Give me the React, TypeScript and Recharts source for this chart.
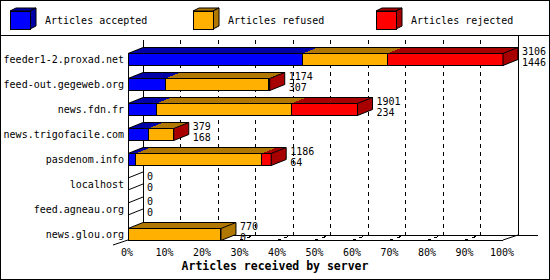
import React from 'react';
import { BarChart, Bar, XAxis, YAxis, CartesianGrid } from 'recharts';

const CATEGORIES = [
  'feeder1-2.proxad.net',
  'feed-out.gegeweb.org',
  'news.fdn.fr',
  'news.trigofacile.com',
  'pasdenom.info',
  'localhost',
  'feed.agneau.org',
  'news.glou.org',
];
const ACCEPTED = [1446, 307, 234, 168, 64, 0, 0, 0];
const REFUSED = [702, 855, 1119, 209, 1043, 0, 0, 770];
const REJECTED = [958, 12, 548, 2, 79, 0, 0, 0];

const SERIES_KEYS = ['accepted', 'refused', 'rejected'];
const SERIES_NAMES = ['Articles accepted', 'Articles refused', 'Articles rejected'];
const SERIES_COLORS = ['#0000ff', '#ffb000', '#ff0000'];
const SERIES_DARK = ['#0000a8', '#b07800', '#a80000'];
const PERCENT_TICKS = [0, 10, 20, 30, 40, 50, 60, 70, 80, 90, 100];
const X_TITLE = 'Articles received by server';

const FONT = '"DejaVu Sans Mono", monospace';
const DX = 15;
const DY = 6;
const BAR = 12;

const data = CATEGORIES.map((name, i) => ({
  name,
  accepted: ACCEPTED[i],
  refused: REFUSED[i],
  rejected: REJECTED[i],
  total: ACCEPTED[i] + REFUSED[i] + REJECTED[i],
}));
const MAX_TOTAL = Math.max(...data.map((d) => d.total));
const X_TICKS = PERCENT_TICKS.map((p) => (MAX_TOTAL * p) / 100);

function makeShape(si: number) {
  return (props: any) => {
    const { x, y, width, height, payload } = props;
    const vals = SERIES_KEYS.map((k) => Number(payload?.[k] ?? 0));
    const total = vals.reduce((a, b) => a + b, 0);
    const last = SERIES_KEYS.length - 1;
    const parts: React.ReactNode[] = [];
    if (total > 0 && vals[si] > 0) {
      const isFirst = vals.slice(0, si).every((v) => v === 0);
      const isLast = vals.slice(si + 1).every((v) => v === 0);
      const x2 = x + width;
      parts.push(
        <polygon
          key="top"
          points={`${x},${y} ${x + DX},${y - DY} ${x2 + DX},${y - DY} ${x2},${y}`}
          fill={SERIES_DARK[si]}
          stroke="none"
          shapeRendering="crispEdges"
        />
      );
      parts.push(<line key="tb" x1={x + DX} y1={y - DY} x2={x2 + DX} y2={y - DY} stroke="#000" shapeRendering="crispEdges" />);
      if (isFirst) {
        parts.push(<line key="tl" x1={x} y1={y} x2={x + DX} y2={y - DY} stroke="#000" />);
      }
      parts.push(
        <rect key="front" x={x} y={y} width={width} height={height} fill={SERIES_COLORS[si]} stroke="#000" shapeRendering="crispEdges" />
      );
      if (isLast) {
        parts.push(
          <polygon
            key="side"
            points={`${x2},${y} ${x2 + DX},${y - DY} ${x2 + DX},${y + height - DY} ${x2},${y + height}`}
            fill={SERIES_DARK[si]}
            stroke="#000"
          />
        );
      }
    }
    if (si === last) {
      const end = x + width;
      parts.push(
        <text key="l1" x={end + DX + 4} y={y + 1} fontFamily={FONT} fontSize={10} fill="#000">
          {total}
        </text>
      );
      parts.push(
        <text key="l2" x={end + DX + 4} y={y + height + 0.5} fontFamily={FONT} fontSize={10} fill="#000">
          {vals[0]}
        </text>
      );
    }
    return <g>{parts}</g>;
  };
}

function scaleX(xAxis: any, offset: any, t: number) {
  const sc = xAxis?.scale;
  if (typeof sc === 'function') return sc(t);
  if (sc && typeof sc.map === 'function') return sc.map(t);
  return offset.left + (offset.width * t) / MAX_TOTAL;
}

const verticalGen = ({ xAxis, offset }: any) => X_TICKS.map((t) => scaleX(xAxis, offset, t));
const horizontalGen = ({ offset }: any) => [offset.top + offset.height];

const renderVertical = (p: any) => {
  const band = p.height / CATEGORIES.length;
  const pad = (band - BAR) / 2;
  const bottom = p.y + p.height;
  const floorFront = bottom - pad;
  const floorBack = floorFront - 5;
  const wallTop = p.y - pad;
  const xb = p.x1 + DX;
  const n = X_TICKS.length;
  if (p.index === 0) {
    return (
      <g key={`v${p.index}`} stroke="#000" fill="none">
        <line x1={xb} y1={wallTop} x2={xb} y2={floorBack} shapeRendering="crispEdges" />
        <line x1={xb} y1={floorBack} x2={p.x1} y2={floorFront} />
      </g>
    );
  }
  if (p.index === n - 1) {
    return (
      <g key={`v${p.index}`}>
        <line x1={xb} y1={p.y - pad - 5} x2={xb} y2={floorBack} stroke="#000" shapeRendering="crispEdges" />
      </g>
    );
  }
  return (
    <g key={`v${p.index}`}>
      <polyline
        points={`${xb},${wallTop} ${xb},${floorBack} ${p.x1},${floorFront}`}
        fill="none"
        stroke="#000"
        strokeDasharray="4 4"
        shapeRendering="crispEdges"
      />
    </g>
  );
};

const renderHorizontal = (p: any) => {
  const n = CATEGORIES.length;
  const band = p.height / n;
  const pad = (band - BAR) / 2;
  const left = p.x1;
  const right = p.x2;
  const floorFront = p.y1 - pad;
  const floorBack = floorFront - 5;
  const axisTop = p.y + pad;
  const zeroRows: React.ReactNode[] = [];
  data.forEach((d, i) => {
    if (d.total !== 0) return;
    const top = p.y + band * i + pad;
    const bot = top + BAR;
    zeroRows.push(
      <path
        key={`z${i}`}
        d={`M${left},${top}L${left + DX},${top - DY}M${left},${bot}L${left + DX},${bot - DY}`}
        stroke="#000"
        strokeWidth={1}
        fill="none"
      />
    );
  });
  return (
    <g key={`h${p.index}`} stroke="#000" fill="none">
      <line x1={left} y1={axisTop} x2={left} y2={floorFront} shapeRendering="crispEdges" />
      <line x1={left} y1={floorFront} x2={right} y2={floorFront} shapeRendering="crispEdges" />
      <line x1={right} y1={floorFront} x2={right + DX} y2={floorBack} />
      <line x1={left + DX} y1={floorBack} x2={right + DX + 20} y2={floorBack} shapeRendering="crispEdges" />
      <line x1={left - DX} y1={floorFront + 5} x2={left} y2={floorFront} />
      {zeroRows}
    </g>
  );
};

const XTick = (p: any) => (
  <text x={p.x - 1} y={p.y + 9.5} textAnchor="middle" fontFamily={FONT} fontSize={10} fill="#000">
    {`${PERCENT_TICKS[p.index] ?? Math.round((p.payload.value / MAX_TOTAL) * 100)}%`}
  </text>
);

const YTick = (p: any) => (
  <text x={p.x} y={p.y + 3.5} textAnchor="end" fontFamily={FONT} fontSize={10} fill="#000">
    {p.payload.value}
  </text>
);

function Overlay() {
  return (
    <svg width={550} height={280} style={{ position: 'absolute', left: 0, top: 0, pointerEvents: 'none' }}>
      {SERIES_NAMES.map((name, i) => {
        const x0 = 10 + i * 183;
        return (
          <g key={name}>
            <polygon points={`${x0},11 ${x0 + 6},8 ${x0 + 26},8 ${x0 + 20},11`} fill={SERIES_DARK[i]} stroke="#000" />
            <polygon points={`${x0 + 20},11 ${x0 + 26},8 ${x0 + 26},26 ${x0 + 20},29`} fill={SERIES_DARK[i]} stroke="#000" />
            <rect x={x0} y={11} width={20} height={18} fill={SERIES_COLORS[i]} stroke="#000" shapeRendering="crispEdges" />
            <text x={x0 + 35} y={24} fontFamily={FONT} fontSize={10} fill="#000">
              {name}
            </text>
          </g>
        );
      })}
      <line x1={0} y1={35} x2={550} y2={35} stroke="#000" shapeRendering="crispEdges" />
      <text x={275} y={270} textAnchor="middle" fontFamily={FONT} fontSize={11.5} fontWeight="bold" fill="#000">
        {X_TITLE}
      </text>
      <rect x={0.5} y={0.5} width={549} height={279} fill="none" stroke="#000" />
    </svg>
  );
}

export default function App() {
  return (
    <div style={{ position: 'absolute', left: 0, top: 0, width: 550, height: 280, background: '#fff' }}>
      <BarChart
        width={550}
        height={280}
        data={data}
        layout="vertical"
        margin={{ top: 46.5, right: 47, bottom: 13.5, left: 0 }}
      >
        <CartesianGrid
          horizontal={false}
          vertical={renderVertical}
          verticalCoordinatesGenerator={verticalGen}
        />
        <CartesianGrid
          vertical={false}
          horizontal={renderHorizontal}
          horizontalCoordinatesGenerator={horizontalGen}
        />
        <XAxis
          type="number"
          domain={[0, MAX_TOTAL]}
          ticks={X_TICKS}
          interval={0}
          axisLine={false}
          tickLine={false}
          tickSize={0}
          tickMargin={0}
          height={20}
          tick={XTick}
        />
        <YAxis
          type="category"
          dataKey="name"
          width={128}
          interval={0}
          axisLine={false}
          tickLine={false}
          tickSize={0}
          tickMargin={4}
          tick={YTick}
        />
        {SERIES_KEYS.map((k, i) => (
          <Bar
            key={k}
            dataKey={k}
            name={SERIES_NAMES[i]}
            stackId="s"
            barSize={BAR}
            fill={SERIES_COLORS[i]}
            isAnimationActive={false}
            shape={makeShape(i)}
          />
        ))}
      </BarChart>
      <Overlay />
    </div>
  );
}
